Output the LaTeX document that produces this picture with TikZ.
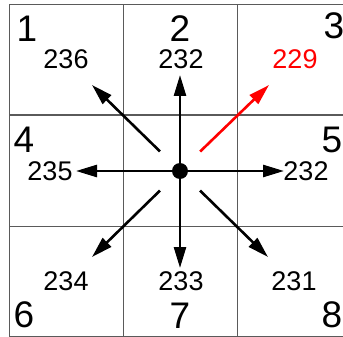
\documentclass[tikz,border=0pt]{standalone}
\usepackage{fontspec}
\setmainfont{Liberation Sans}
\usetikzlibrary{arrows.meta}
\definecolor{gridgray}{RGB}{90,90,90}
\tikzset{
  gridline/.style={draw=gridgray, line width=1pt},
  arr/.style={line width=2.6pt, -{Triangle[length=21pt,width=12pt]}},
  redarr/.style={arr, draw=red, fill=red},
  dot/.style={circle, fill=black, minimum size=16pt, inner sep=0pt},
  small/.style={anchor=base, inner sep=0pt, font=\fontsize{27}{30}\selectfont},
  big/.style={anchor=base, inner sep=0pt, font=\fontsize{37}{40}\selectfont},
}
\begin{document}
\begin{tikzpicture}[x=1pt,y=-1pt]
\useasboundingbox (0,0) rectangle (343,337);
\fill[white] (0,0) rectangle (343,337);
% grid
\draw[gridline] (9,5) -- (343,5);
\draw[gridline] (9,115) -- (343,115);
\draw[gridline] (9,226) -- (343,226);
\draw[gridline] (9,336) -- (343,336);
\draw[gridline] (9,5) -- (9,336);
\draw[gridline] (123,5) -- (123,336);
\draw[gridline] (237,5) -- (237,336);
% cell numbers
\node[big] (k1) at (27,42) {1};
\node[big] (k2) at (180,42) {2};
\node[big] (k3) at (334,39) {3};
\node[big] (k4) at (24,153) {4};
\node[big] (k5) at (332,153) {5};
\node[big] (k6) at (24,327) {6};
\node[big] (k7) at (180,328) {7};
\node[big] (k8) at (332,327) {8};
% values
\node[small] (v1) at (66,69) {236};
\node[small] (v2) at (181,69) {232};
\node[small, text=red] (v3) at (295,69) {229};
\node[small] (v4) at (50,180) {235};
\node[small] (v5) at (306,180) {232};
\node[small] (v6) at (66,290) {234};
\node[small] (v7) at (181,290) {233};
\node[small] (v8) at (294,290) {231};
% centre and arrows
\node[dot] (c) at (180,171) {};
\coordinate (tn) at (180,75);
\coordinate (ts) at (180,268);
\coordinate (tw) at (76,171);
\coordinate (te) at (284,171);
\coordinate (tnw) at (92,85);
\coordinate (tne) at (269,85);
\coordinate (tsw) at (92,257);
\coordinate (tse) at (268,257);
\draw[arr] (c) -- (tn);
\draw[arr] (c) -- (ts);
\draw[arr] (c) -- (tw);
\draw[arr] (c) -- (te);
\draw[arr, shorten <=28pt] (c.center) -- (tnw);
\draw[arr, shorten <=28pt] (c.center) -- (tsw);
\draw[arr, shorten <=28pt] (c.center) -- (tse);
\draw[redarr, shorten <=28pt] (c.center) -- (tne);
\end{tikzpicture}
\end{document}
